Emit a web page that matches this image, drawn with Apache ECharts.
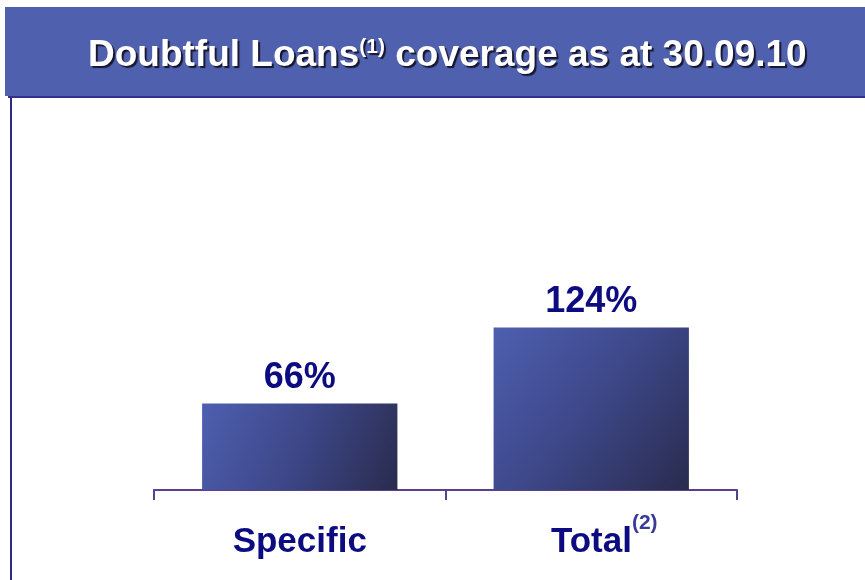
<!DOCTYPE html>
<html>
<head>
<meta charset="utf-8">
<script src="https://cdn.jsdelivr.net/npm/echarts@6/dist/echarts.min.js"></script>
<style>
  html, body { margin: 0; padding: 0; background: #fff; }
  #chart { width: 865px; height: 580px; }
</style>
</head>
<body>
<div id="chart"></div>
<script>
// data
const categories = ["Specific", "Total"];
const coverage = [66, 124];
const footnotes = ["", "(2)"];

const chart = echarts.init(document.getElementById("chart"));

const barColor = new echarts.graphic.LinearGradient(0, 0, 1, 1, [
  { offset: 0, color: "#4e5fb0" },
  { offset: 0.5, color: "#3d4788" },
  { offset: 1, color: "#292b4d" }
]);

const shadow = {
  textShadowColor: "#15152e",
  textShadowOffsetX: 2,
  textShadowOffsetY: 2,
  textShadowBlur: 1
};

chart.setOption({
  animation: false,
  title: {
    text: "{t|Doubtful Loans}{sup|(1)}{t| coverage as at 30.09.10}",
    left: 83,
    top: 29,
    textStyle: {
      rich: {
        t: Object.assign({
          fontFamily: "Liberation Sans",
          fontWeight: "bold",
          fontSize: 37,
          lineHeight: 44,
          color: "#fff"
        }, shadow),
        sup: Object.assign({
          fontFamily: "Liberation Sans",
          fontWeight: "bold",
          fontSize: 21,
          lineHeight: 24,
          padding: [3, 0, 0, 0],
          color: "#fff",
          verticalAlign: "top"
        }, shadow)
      }
    }
  },
  graphic: [
    {
      type: "rect",
      z: -1,
      shape: { x: 5, y: 7, width: 860, height: 89 },
      style: { fill: "#4f60ae" }
    },
    {
      type: "line",
      shape: { x1: 8, y1: 97, x2: 865, y2: 97 },
      style: { stroke: "#33338f", lineWidth: 2 }
    },
    {
      type: "line",
      shape: { x1: 11, y1: 97, x2: 11, y2: 580 },
      style: { stroke: "#2c2c7a", lineWidth: 2 }
    }
  ],
  grid: { left: 154, right: 128, top: 97, bottom: 90 },
  xAxis: {
    type: "category",
    data: categories,
    axisLine: { lineStyle: { color: "#5a3f8f", width: 2 } },
    axisTick: { show: true, length: 10, lineStyle: { color: "#5a3f8f", width: 2 } },
    axisLabel: {
      margin: 23,
      formatter: function (v, i) {
        return footnotes[i]
          ? "{pad| }{b|" + v + "}{sup|" + footnotes[i] + "}"
          : "{b|" + v + "}";
      },
      rich: {
        pad: { width: 26, fontSize: 10 },
        b: {
          fontFamily: "Liberation Sans",
          fontWeight: "bold",
          fontSize: 35,
          lineHeight: 58,
          color: "#0c0c80"
        },
        sup: {
          fontFamily: "Liberation Sans",
          fontWeight: "bold",
          fontSize: 21,
          lineHeight: 22,
          color: "#3a3a9a",
          verticalAlign: "top"
        }
      }
    }
  },
  yAxis: {
    type: "value",
    min: 0,
    max: 300,
    show: false
  },
  series: [
    {
      type: "bar",
      data: coverage,
      barWidth: "67%",
      itemStyle: { color: barColor },
      label: {
        show: true,
        position: "top",
        distance: 7,
        formatter: "{c}%",
        fontFamily: "Liberation Sans",
        fontWeight: "bold",
        fontSize: 36,
        color: "#0c0c80"
      }
    }
  ]
});
</script>
</body>
</html>
